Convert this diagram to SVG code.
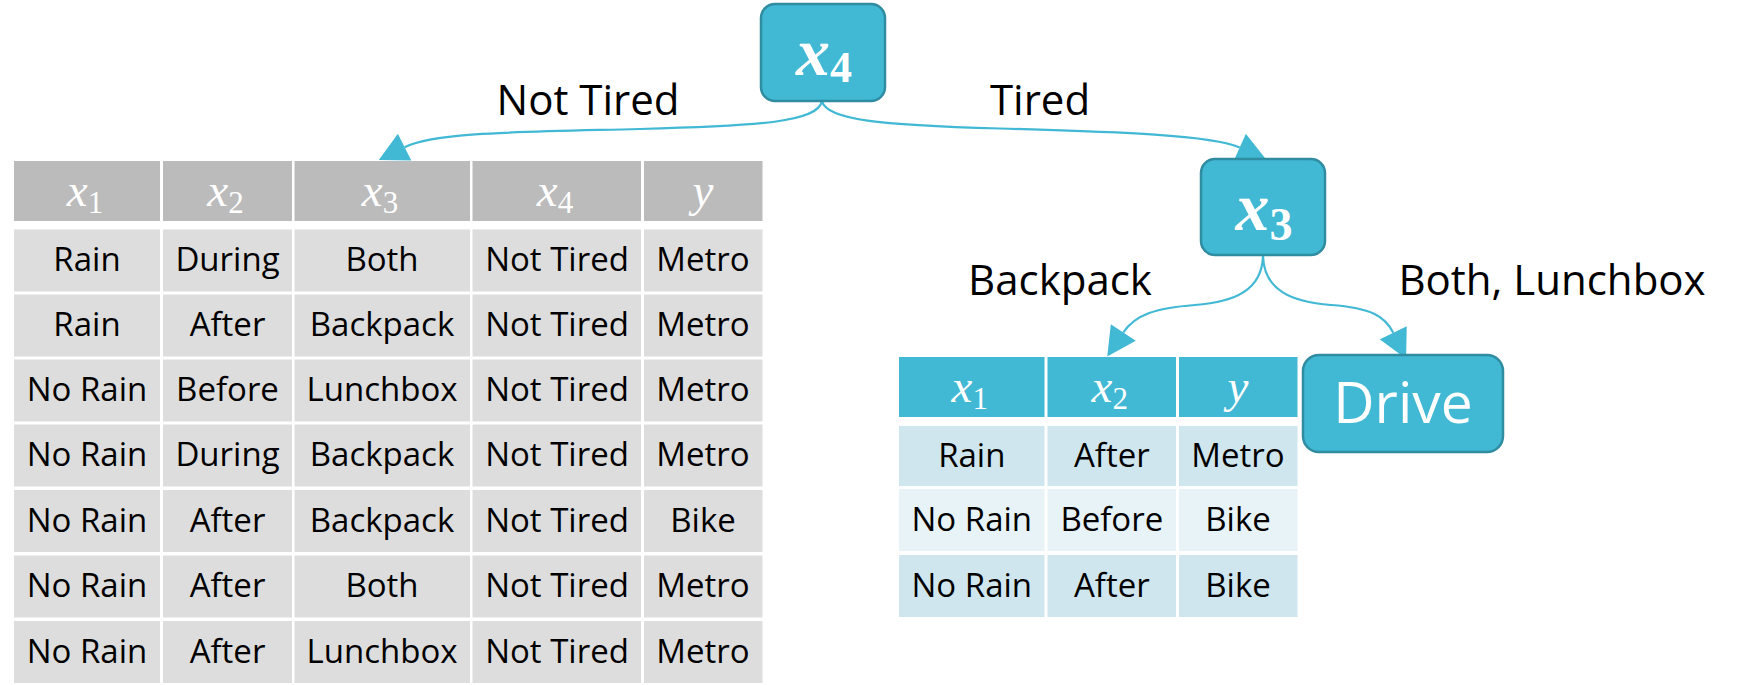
<svg xmlns="http://www.w3.org/2000/svg" width="1742" height="685" viewBox="0 0 1742 685">
  <defs>
    <style>
      .txt { font-family: "Open Sans", "Noto Sans", "DejaVu Sans", sans-serif; fill: #000; }
      .cell { font-size: 33px; text-anchor: middle; }
      .lbl { font-size: 42px; text-anchor: middle; }
      .math { font-family: "Liberation Serif", "DejaVu Serif", serif; font-style: italic; fill: #fff; text-anchor: middle; }
      .hdr { font-size: 47px; }
      .node-math { font-size: 68px; font-weight: bold; }
      .sub { font-style: normal; }
      .g-head { fill: #bbbbbb; }
      .g-row { fill: #dddddd; }
      .t-head { fill: #41b8d4; }
      .t-row-a { fill: #cfe6ee; }
      .t-row-b { fill: #e7f3f7; }
      .node { fill: #41b8d4; stroke: #2f8ca1; stroke-width: 2.5; }
      .edge { fill: none; stroke: #41b8d4; stroke-width: 2.2; }
      .drive { font-family: "Open Sans", "Noto Sans", sans-serif; font-size: 57px; fill: #fff; text-anchor: middle; }
    </style>
    <marker id="arrow" markerUnits="userSpaceOnUse" markerWidth="30" markerHeight="30" refX="0" refY="13" orient="auto" viewBox="0 0 25 26">
      <path d="M0,0 L25,13 L0,26 Z" fill="#41b8d4"/>
    </marker>
  </defs>

  <rect width="1742" height="685" fill="#ffffff"/>

  <!-- connectors -->
  <g id="connectors">
    <path class="edge" d="M822,101 C818,122 760,126 640,129 C520,132 435,132 404.6,147.2" marker-end="url(#arrow)"/>
    <path class="edge" d="M822,101 C826,120 880,125 1000,128.5 C1120,132 1212,135 1239.7,147.5" marker-end="url(#arrow)"/>
    <path class="edge" d="M1263,256 C1262,290 1235,302 1195,305 C1155,308 1135,315 1123.3,332.5" marker-end="url(#arrow)"/>
    <path class="edge" d="M1263,256 C1264,290 1291,302 1331,305 C1371,308 1385,316 1393.3,332.8" marker-end="url(#arrow)"/>
  </g>

  <!-- edge labels -->
  <g id="edge-labels" class="txt lbl">
    <text x="588" y="115">Not Tired</text>
    <text x="1040" y="115">Tired</text>
    <text x="1060" y="295">Backpack</text>
    <text x="1552" y="295">Both, Lunchbox</text>
  </g>

  <!-- root split on x4 -->
  <g id="node-x4">
    <rect class="node" x="761" y="4" width="124" height="97" rx="14"/>
    <text class="math node-math" x="824" y="75">x<tspan class="sub" font-size="44" dy="7">4</tspan></text>
  </g>

  <!-- split on x3 -->
  <g id="node-x3">
    <rect class="node" x="1201" y="159" width="124" height="96" rx="14"/>
    <text class="math node-math" x="1264" y="230">x<tspan class="sub" font-size="46" dy="10">3</tspan></text>
  </g>

  <!-- leaf: Drive -->
  <g id="node-drive">
    <rect class="node" x="1303" y="355" width="200" height="97" rx="16"/>
    <text class="drive" x="1403" y="423">Drive</text>
  </g>

  <!-- Not Tired subset -->
  <g id="table-not-tired">
    <g class="g-head">
      <rect x="14" y="161" width="146" height="60"/>
      <rect x="163" y="161" width="129" height="60"/>
      <rect x="294.5" y="161" width="175.5" height="60"/>
      <rect x="472.5" y="161" width="168.5" height="60"/>
      <rect x="644" y="161" width="118.5" height="60"/>
    </g>
    <g class="math hdr">
      <text x="85" y="206">x<tspan class="sub" font-size="31" dy="7">1</tspan></text>
      <text x="225.5" y="206">x<tspan class="sub" font-size="31" dy="7">2</tspan></text>
      <text x="380" y="206">x<tspan class="sub" font-size="31" dy="7">3</tspan></text>
      <text x="555" y="206">x<tspan class="sub" font-size="31" dy="7">4</tspan></text>
      <text x="703" y="206">y</text>
    </g>
    <g class="g-row">
      <rect x="14" y="229.5" width="146" height="62"/><rect x="163" y="229.5" width="129" height="62"/><rect x="294.5" y="229.5" width="175.5" height="62"/><rect x="472.5" y="229.5" width="168.5" height="62"/><rect x="644" y="229.5" width="118.5" height="62"/>
      <rect x="14" y="294.5" width="146" height="62"/><rect x="163" y="294.5" width="129" height="62"/><rect x="294.5" y="294.5" width="175.5" height="62"/><rect x="472.5" y="294.5" width="168.5" height="62"/><rect x="644" y="294.5" width="118.5" height="62"/>
      <rect x="14" y="359.5" width="146" height="62"/><rect x="163" y="359.5" width="129" height="62"/><rect x="294.5" y="359.5" width="175.5" height="62"/><rect x="472.5" y="359.5" width="168.5" height="62"/><rect x="644" y="359.5" width="118.5" height="62"/>
      <rect x="14" y="424.5" width="146" height="62"/><rect x="163" y="424.5" width="129" height="62"/><rect x="294.5" y="424.5" width="175.5" height="62"/><rect x="472.5" y="424.5" width="168.5" height="62"/><rect x="644" y="424.5" width="118.5" height="62"/>
      <rect x="14" y="490" width="146" height="62"/><rect x="163" y="490" width="129" height="62"/><rect x="294.5" y="490" width="175.5" height="62"/><rect x="472.5" y="490" width="168.5" height="62"/><rect x="644" y="490" width="118.5" height="62"/>
      <rect x="14" y="555.5" width="146" height="62"/><rect x="163" y="555.5" width="129" height="62"/><rect x="294.5" y="555.5" width="175.5" height="62"/><rect x="472.5" y="555.5" width="168.5" height="62"/><rect x="644" y="555.5" width="118.5" height="62"/>
      <rect x="14" y="621" width="146" height="62"/><rect x="163" y="621" width="129" height="62"/><rect x="294.5" y="621" width="175.5" height="62"/><rect x="472.5" y="621" width="168.5" height="62"/><rect x="644" y="621" width="118.5" height="62"/>
    </g>
    <g class="txt cell">
      <text x="87" y="271">Rain</text><text x="227.5" y="271">During</text><text x="382" y="271">Both</text><text x="557" y="271">Not Tired</text><text x="703" y="271">Metro</text>
      <text x="87" y="336">Rain</text><text x="227.5" y="336">After</text><text x="382" y="336">Backpack</text><text x="557" y="336">Not Tired</text><text x="703" y="336">Metro</text>
      <text x="87" y="401">No Rain</text><text x="227.5" y="401">Before</text><text x="382" y="401">Lunchbox</text><text x="557" y="401">Not Tired</text><text x="703" y="401">Metro</text>
      <text x="87" y="466">No Rain</text><text x="227.5" y="466">During</text><text x="382" y="466">Backpack</text><text x="557" y="466">Not Tired</text><text x="703" y="466">Metro</text>
      <text x="87" y="531.5">No Rain</text><text x="227.5" y="531.5">After</text><text x="382" y="531.5">Backpack</text><text x="557" y="531.5">Not Tired</text><text x="703" y="531.5">Bike</text>
      <text x="87" y="597">No Rain</text><text x="227.5" y="597">After</text><text x="382" y="597">Both</text><text x="557" y="597">Not Tired</text><text x="703" y="597">Metro</text>
      <text x="87" y="662.5">No Rain</text><text x="227.5" y="662.5">After</text><text x="382" y="662.5">Lunchbox</text><text x="557" y="662.5">Not Tired</text><text x="703" y="662.5">Metro</text>
    </g>
  </g>

  <!-- Tired + Backpack subset -->
  <g id="table-backpack">
    <g class="t-head">
      <rect x="899" y="357" width="145.5" height="60"/>
      <rect x="1047.5" y="357" width="128.5" height="60"/>
      <rect x="1179" y="357" width="118.5" height="60"/>
    </g>
    <g class="math hdr">
      <text x="969.8" y="402">x<tspan class="sub" font-size="31" dy="7">1</tspan></text>
      <text x="1109.8" y="402">x<tspan class="sub" font-size="31" dy="7">2</tspan></text>
      <text x="1238" y="402">y</text>
    </g>
    <g class="t-row-a">
      <rect x="899" y="426" width="145.5" height="60"/><rect x="1047.5" y="426" width="128.5" height="60"/><rect x="1179" y="426" width="118.5" height="60"/>
      <rect x="899" y="555" width="145.5" height="62"/><rect x="1047.5" y="555" width="128.5" height="62"/><rect x="1179" y="555" width="118.5" height="62"/>
    </g>
    <g class="t-row-b">
      <rect x="899" y="489" width="145.5" height="62"/><rect x="1047.5" y="489" width="128.5" height="62"/><rect x="1179" y="489" width="118.5" height="62"/>
    </g>
    <g class="txt cell">
      <text x="971.8" y="467">Rain</text><text x="1111.8" y="467">After</text><text x="1238" y="467">Metro</text>
      <text x="971.8" y="531">No Rain</text><text x="1111.8" y="531">Before</text><text x="1238" y="531">Bike</text>
      <text x="971.8" y="597">No Rain</text><text x="1111.8" y="597">After</text><text x="1238" y="597">Bike</text>
    </g>
  </g>
</svg>
